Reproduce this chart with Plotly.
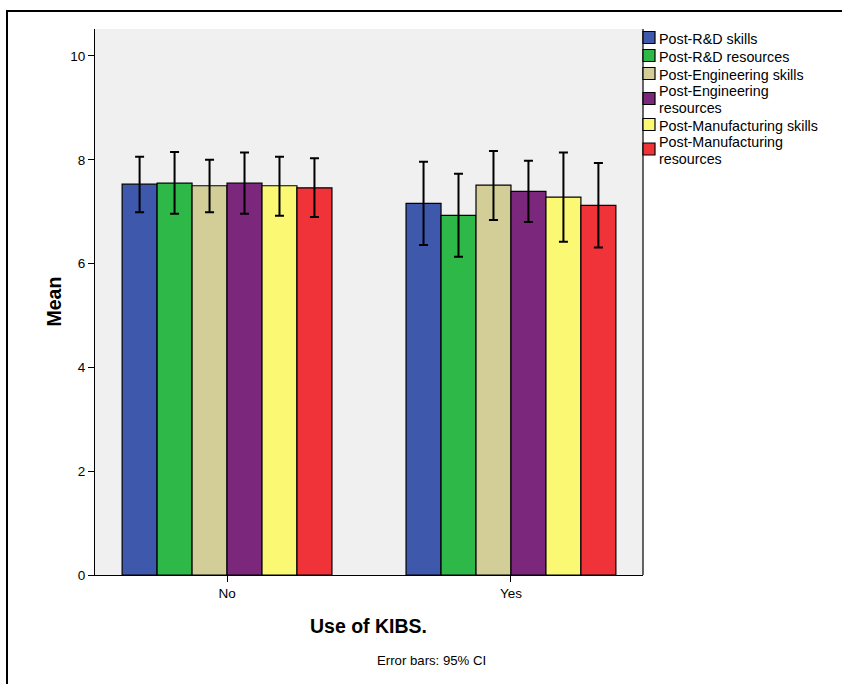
import plotly.graph_objects as go

categories = ["No", "Yes"]
series_names = [
    "Post-R&D skills",
    "Post-R&D resources",
    "Post-Engineering skills",
    "Post-Engineering<br>resources",
    "Post-Manufacturing skills",
    "Post-Manufacturing<br>resources",
]
colors = ["#3E58AC", "#2EB848", "#D3CE97", "#7B277C", "#FBF873", "#EF3338"]

# means per series: [No, Yes]
means = [
    [7.53, 7.16],
    [7.55, 6.93],
    [7.50, 7.51],
    [7.55, 7.39],
    [7.50, 7.28],
    [7.46, 7.12],
]
ci_upper = [
    [8.06, 7.96],
    [8.15, 7.73],
    [8.00, 8.17],
    [8.14, 7.98],
    [8.06, 8.14],
    [8.03, 7.94],
]
ci_lower = [
    [6.99, 6.36],
    [6.96, 6.13],
    [6.99, 6.84],
    [6.96, 6.80],
    [6.92, 6.42],
    [6.90, 6.31],
]

FONT = "Liberation Sans, Arial, sans-serif"

# pixel -> paper helpers (plot area spans x 95..643, y 29..575)
def px(x):
    return (x - 95) / 548.0

def py(y):
    return (575 - y) / 546.0

fig = go.Figure()
for name, col, m, up, lo in zip(series_names, colors, means, ci_upper, ci_lower):
    fig.add_trace(go.Bar(
        x=categories, y=m, name=name.replace("<br>", " "), showlegend=False,
        marker=dict(color=col, line=dict(color="black", width=1.2)),
        error_y=dict(type="data", symmetric=False,
                     array=[u - v for u, v in zip(up, m)],
                     arrayminus=[v - l for v, l in zip(m, lo)],
                     color="black", thickness=2, width=4.5),
    ))

shapes = [
    dict(type="rect", xref="paper", yref="paper",
         x0=px(7), x1=px(870), y0=py(720), y1=py(11),
         line=dict(color="black", width=2), fillcolor="rgba(0,0,0,0)", layer="below"),
    dict(type="line", xref="paper", yref="paper", x0=1, x1=1, y0=0, y1=1,
         line=dict(color="black", width=1.2)),
]
annotations = [
    dict(text="<b>Mean</b>", xref="paper", yref="paper", x=px(53), y=py(301.5),
         showarrow=False, textangle=-90, font=dict(size=19.5),
         xanchor="center", yanchor="middle"),
    dict(text="<b>Use of KIBS.</b>", xref="paper", yref="paper", x=px(368.5), y=py(626),
         showarrow=False, font=dict(size=19.5), xanchor="center", yanchor="middle"),
    dict(text="Error bars: 95% CI", xref="paper", yref="paper", x=px(431), y=py(661),
         showarrow=False, font=dict(size=13.2), xanchor="center", yanchor="middle"),
]

# manual legend (swatch + label lines)
item_centers = [37.5, 55.5, 73.5, 98.5, 124.5, 149.0]
for name, col, yc in zip(series_names, colors, item_centers):
    shapes.append(dict(type="rect", xref="paper", yref="paper",
                       x0=px(643), x1=px(655), y0=py(yc + 6), y1=py(yc - 6),
                       fillcolor=col, line=dict(color="black", width=1.2)))
    lines = name.split("<br>")
    if len(lines) == 1:
        offs = [1.5]
    else:
        offs = [-7.5, 9.5]
    for line, o in zip(lines, offs):
        annotations.append(dict(text=line, xref="paper", yref="paper",
                                x=px(658), y=py(yc + o), showarrow=False, borderpad=0,
                                font=dict(size=14.3), xanchor="left", yanchor="middle"))

fig.update_layout(
    width=842, height=684,
    margin=dict(l=95, r=199, t=29, b=109),
    paper_bgcolor="white", plot_bgcolor="#F0F0F0",
    barmode="group", bargap=0.261, bargroupgap=0,
    font=dict(family=FONT, size=13.5, color="black"),
    showlegend=False,
    xaxis=dict(range=[-0.465, 1.465], showline=True, linecolor="black", linewidth=1.2,
               ticks="outside", ticklen=6, tickcolor="black", tickwidth=1.2,
               tickfont=dict(size=13.5), showgrid=False),
    yaxis=dict(range=[0, 10.52], showline=True, linecolor="black", linewidth=1.2,
               ticks="outside", ticklen=6, tickcolor="black", tickwidth=1.2,
               tickvals=[0, 2, 4, 6, 8, 10], tickfont=dict(size=13.5),
               showgrid=False, zeroline=False),
    annotations=annotations,
    shapes=shapes,
)

fig.write_html("out.html", config={"displayModeBar": False},
               post_script="document.body.style.margin='0px';document.body.style.overflow='hidden';")
